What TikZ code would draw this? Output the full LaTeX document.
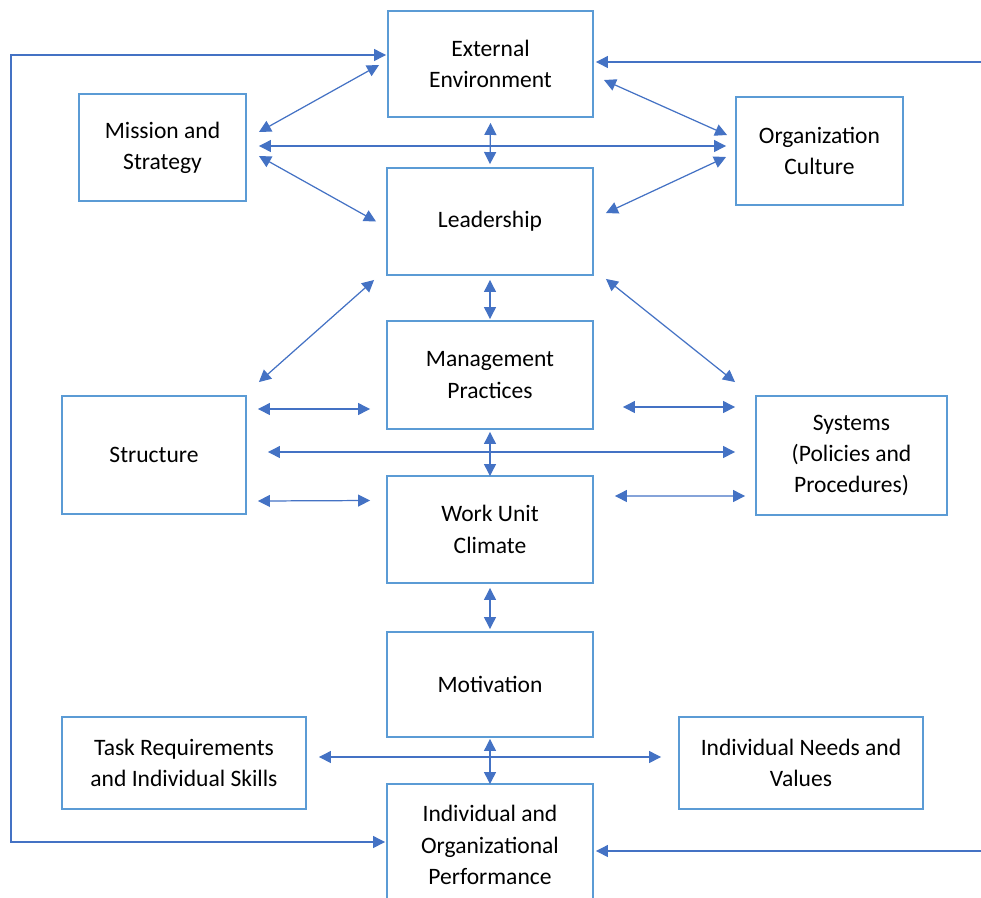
\documentclass[tikz,border=0pt]{standalone}
\usepackage{fontspec}
\setmainfont{Carlito}
\usetikzlibrary{calc, positioning, arrows.meta}
\definecolor{boxblue}{HTML}{5B9BD5}
\definecolor{arrowblue}{HTML}{4472C4}
\tikzset{
	box/.style={draw=boxblue, line width=1.1pt, align=center, inner sep=2pt, font=\fontsize{13.4}{17.8}\selectfont},
	link/.style={draw=arrowblue, line width=0.7pt, {Triangle[length=2.4mm,width=2.4mm]}-{Triangle[length=2.4mm,width=2.4mm]}},
	feed/.style={draw=arrowblue, line width=0.7pt, -{Triangle[length=2.4mm,width=2.4mm]}},
}

\begin{document}
\begin{tikzpicture}[x=0.02cm, y=-0.02cm]
	\useasboundingbox (0,0) rectangle (981,897);
	% column of central boxes
	\node[box, minimum width=4.1cm, minimum height=2.12cm] (ext) at (490.5,64) {External\\Environment};
	\node[box, minimum width=4.12cm, minimum height=2.14cm] (lead) at (490,221.5) {Leadership};
	\node[box, minimum width=4.12cm, minimum height=2.16cm] (mgmt) at (490,375) {Management\\Practices};
	\node[box, minimum width=4.12cm, minimum height=2.14cm] (clim) at (490,529.5) {Work Unit\\Climate};
	\node[box, minimum width=4.12cm, minimum height=2.1cm] (mot) at (490,684.5) {Motivation};
	\node[box, minimum width=4.12cm, minimum height=2.44cm] (perf) at (490,845) {Individual and\\Organizational\\Performance};
	% side boxes
	\node[box, minimum width=3.34cm, minimum height=2.14cm] (mis) at (162.5,147.5) {Mission and\\Strategy};
	\node[box, minimum width=3.34cm, minimum height=2.16cm] (cul) at (819.5,151) {Organization\\Culture};
	\node[box, minimum width=3.68cm, minimum height=2.36cm] (str) at (154,455) {Structure};
	\node[box, minimum width=3.82cm, minimum height=2.38cm] (sys) at (851.5,455.5) {Systems\\(Policies and\\Procedures)};
	\node[box, minimum width=4.88cm, minimum height=1.84cm] (task) at (184,763) {Task Requirements\\and Individual Skills};
	\node[box, minimum width=4.88cm, minimum height=1.84cm] (need) at (801,763) {Individual Needs and\\Values};

	% two-way links
	\draw[link] ($(mis.east)+(12,-15.5)$) -- ($(ext.west)+(-8,1)$);
	\draw[link] ($(mis.east)+(12,-1.5)$) -- ($(cul.west)+(-9,-5)$);
	\draw[link] ($(mis.east)+(12,8.5)$) -- ($(lead.west)+(-10,0)$);
	\draw[link] ($(ext.south)+(0,5)$) -- ($(lead.north)+(0,-3)$);
	\draw[link] ($(ext.east)+(10,16)$) -- ($(cul.west)+(-8,-16)$);
	\draw[link] ($(lead.east)+(12,-8.5)$) -- ($(cul.west)+(-9,6)$);
	\draw[link] ($(lead.south)+(0,4)$) -- ($(mgmt.north)+(0,-1)$);
	\draw[link] ($(lead.south west)+(-12,4)$) -- ($(str.north east)+(12,-13)$);
	\draw[link] ($(lead.south east)+(12,3)$) -- ($(sys.north west)+(-20,-13)$);
	\draw[link] ($(str.east)+(11,-46)$) -- ($(mgmt.west)+(-16,34)$);
	\draw[link] ($(mgmt.east)+(29,32)$) -- ($(sys.west)+(-20,-48.5)$);
	\draw[link] ($(str.east)+(21,-3)$) -- ($(sys.west)+(-20,-3.5)$);
	\draw[link] ($(mgmt.south)+(0,2)$) -- ($(clim.north)+(0,1)$);
	\draw[link] ($(str.east)+(11,46)$) -- ($(clim.west)+(-16,-29)$);
	\draw[link] ($(clim.east)+(21,-33.5)$) -- ($(sys.west)+(-10,40.5)$);
	\draw[link] ($(clim.south)+(0,4)$) -- ($(mot.north)+(0,-2)$);
	\draw[link] ($(mot.south)+(0,1)$) -- ($(perf.north)+(0,1)$);
	\draw[link] ($(task.east)+(12,-6)$) -- ($(need.west)+(-17,-6)$);

	% feedback loops
	\coordinate (fbl) at (11,842);
	\coordinate (fbr) at (981,62);
	\coordinate (fbrb) at (981,851);
	\draw[link] ($(ext.west)+(-1,-9)$) -| (fbl) -- ($(perf.west)+(-1,-3)$);
	\draw[feed] (fbr) -- ($(ext.east)+(2,-2)$);
	\draw[feed] (fbrb) -- ($(perf.east)+(2,6)$);
\end{tikzpicture}
\end{document}
